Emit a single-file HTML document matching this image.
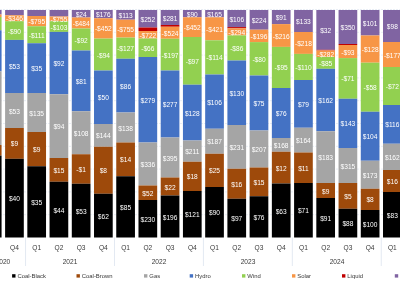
<!DOCTYPE html><html><head><meta charset="utf-8"><style>html,body{margin:0;padding:0;background:#fff;width:400px;height:283px;overflow:hidden}svg{display:block;will-change:transform}text{font-family:"Liberation Sans",sans-serif}</style></head><body>
<svg width="400" height="283" viewBox="0 0 400 283">
<line x1="0" y1="9.50" x2="400" y2="9.50" stroke="#E9EEF5" stroke-width="1" stroke-dasharray="2 1"/>
<line x1="0" y1="32.30" x2="400" y2="32.30" stroke="#E9EEF5" stroke-width="1" stroke-dasharray="2 1"/>
<line x1="0" y1="55.10" x2="400" y2="55.10" stroke="#E9EEF5" stroke-width="1" stroke-dasharray="2 1"/>
<line x1="0" y1="77.90" x2="400" y2="77.90" stroke="#E9EEF5" stroke-width="1" stroke-dasharray="2 1"/>
<line x1="0" y1="100.70" x2="400" y2="100.70" stroke="#E9EEF5" stroke-width="1" stroke-dasharray="2 1"/>
<line x1="0" y1="123.50" x2="400" y2="123.50" stroke="#E9EEF5" stroke-width="1" stroke-dasharray="2 1"/>
<line x1="0" y1="146.30" x2="400" y2="146.30" stroke="#E9EEF5" stroke-width="1" stroke-dasharray="2 1"/>
<line x1="0" y1="169.10" x2="400" y2="169.10" stroke="#E9EEF5" stroke-width="1" stroke-dasharray="2 1"/>
<line x1="0" y1="191.90" x2="400" y2="191.90" stroke="#E9EEF5" stroke-width="1" stroke-dasharray="2 1"/>
<line x1="0" y1="214.70" x2="400" y2="214.70" stroke="#E9EEF5" stroke-width="1" stroke-dasharray="2 1"/>
<rect x="-17.13" y="10.00" width="18.7" height="4.50" fill="#8064A2"/>
<rect x="-17.13" y="14.50" width="18.7" height="2.50" fill="#F79646"/>
<rect x="-17.13" y="17.00" width="18.7" height="13.30" fill="#92D050"/>
<rect x="-17.13" y="30.30" width="18.7" height="41.10" fill="#4472C4"/>
<rect x="-17.13" y="71.40" width="18.7" height="73.60" fill="#A5A5A5"/>
<rect x="-17.13" y="145.00" width="18.7" height="10.60" fill="#9E4A0B"/>
<rect x="-17.13" y="155.60" width="18.7" height="81.90" fill="#000000"/>
<text x="-7.78" y="53.85" font-size="6.6" fill="#fff" text-anchor="middle">$53</text>
<text x="-7.78" y="111.20" font-size="6.6" fill="#fff" text-anchor="middle">$53</text>
<text x="-7.78" y="199.55" font-size="6.6" fill="#fff" text-anchor="middle">$40</text>
<rect x="5.10" y="10.00" width="18.7" height="5.30" fill="#8064A2"/>
<rect x="5.10" y="15.30" width="18.7" height="5.90" fill="#F79646"/>
<rect x="5.10" y="21.20" width="18.7" height="18.70" fill="#92D050"/>
<rect x="5.10" y="39.90" width="18.7" height="53.10" fill="#4472C4"/>
<rect x="5.10" y="93.00" width="18.7" height="35.00" fill="#A5A5A5"/>
<rect x="5.10" y="128.00" width="18.7" height="30.80" fill="#9E4A0B"/>
<rect x="5.10" y="158.80" width="18.7" height="78.70" fill="#000000"/>
<text x="14.45" y="21.25" font-size="6.6" fill="#fff" text-anchor="middle">-$346</text>
<text x="14.45" y="33.55" font-size="6.6" fill="#fff" text-anchor="middle">-$90</text>
<text x="14.45" y="69.45" font-size="6.6" fill="#fff" text-anchor="middle">$53</text>
<text x="14.45" y="113.50" font-size="6.6" fill="#fff" text-anchor="middle">$53</text>
<text x="14.45" y="146.40" font-size="6.6" fill="#fff" text-anchor="middle">$9</text>
<text x="14.45" y="201.15" font-size="6.6" fill="#fff" text-anchor="middle">$40</text>
<rect x="27.33" y="10.00" width="18.7" height="6.00" fill="#8064A2"/>
<rect x="27.33" y="16.00" width="18.7" height="10.25" fill="#F79646"/>
<rect x="27.33" y="26.25" width="18.7" height="17.00" fill="#92D050"/>
<rect x="27.33" y="43.25" width="18.7" height="49.75" fill="#4472C4"/>
<rect x="27.33" y="93.00" width="18.7" height="39.00" fill="#A5A5A5"/>
<rect x="27.33" y="132.00" width="18.7" height="34.25" fill="#9E4A0B"/>
<rect x="27.33" y="166.25" width="18.7" height="71.25" fill="#000000"/>
<text x="36.68" y="24.12" font-size="6.6" fill="#fff" text-anchor="middle">-$795</text>
<text x="36.68" y="37.75" font-size="6.6" fill="#fff" text-anchor="middle">-$111</text>
<text x="36.68" y="71.12" font-size="6.6" fill="#fff" text-anchor="middle">$35</text>
<text x="36.68" y="115.50" font-size="6.6" fill="#fff" text-anchor="middle">$135</text>
<text x="36.68" y="152.12" font-size="6.6" fill="#fff" text-anchor="middle">$9</text>
<text x="36.68" y="204.88" font-size="6.6" fill="#fff" text-anchor="middle">$35</text>
<rect x="49.56" y="10.00" width="18.7" height="6.50" fill="#8064A2"/>
<rect x="49.56" y="16.50" width="18.7" height="4.75" fill="#F79646"/>
<rect x="49.56" y="21.25" width="18.7" height="10.65" fill="#92D050"/>
<rect x="49.56" y="31.90" width="18.7" height="62.35" fill="#4472C4"/>
<rect x="49.56" y="94.25" width="18.7" height="63.75" fill="#A5A5A5"/>
<rect x="49.56" y="158.00" width="18.7" height="23.75" fill="#9E4A0B"/>
<rect x="49.56" y="181.75" width="18.7" height="55.75" fill="#000000"/>
<text x="58.91" y="21.88" font-size="6.6" fill="#fff" text-anchor="middle">-$755</text>
<text x="58.91" y="29.57" font-size="6.6" fill="#fff" text-anchor="middle">-$103</text>
<text x="58.91" y="66.08" font-size="6.6" fill="#fff" text-anchor="middle">$92</text>
<text x="58.91" y="129.12" font-size="6.6" fill="#fff" text-anchor="middle">$94</text>
<text x="58.91" y="172.88" font-size="6.6" fill="#fff" text-anchor="middle">$15</text>
<text x="58.91" y="212.62" font-size="6.6" fill="#fff" text-anchor="middle">$44</text>
<rect x="71.79" y="10.00" width="18.7" height="7.50" fill="#8064A2"/>
<rect x="71.79" y="17.50" width="18.7" height="11.00" fill="#F79646"/>
<rect x="71.79" y="28.50" width="18.7" height="22.00" fill="#92D050"/>
<rect x="71.79" y="50.50" width="18.7" height="60.75" fill="#4472C4"/>
<rect x="71.79" y="111.25" width="18.7" height="43.00" fill="#A5A5A5"/>
<rect x="71.79" y="154.25" width="18.7" height="29.50" fill="#9E4A0B"/>
<rect x="71.79" y="183.75" width="18.7" height="53.75" fill="#000000"/>
<text x="81.14" y="16.75" font-size="6.6" fill="#fff" text-anchor="middle">$24</text>
<text x="81.14" y="26.00" font-size="6.6" fill="#fff" text-anchor="middle">-$484</text>
<text x="81.14" y="42.50" font-size="6.6" fill="#fff" text-anchor="middle">-$92</text>
<text x="81.14" y="83.88" font-size="6.6" fill="#fff" text-anchor="middle">$81</text>
<text x="81.14" y="135.75" font-size="6.6" fill="#fff" text-anchor="middle">$108</text>
<text x="81.14" y="172.00" font-size="6.6" fill="#fff" text-anchor="middle">-$1</text>
<text x="81.14" y="213.62" font-size="6.6" fill="#fff" text-anchor="middle">$53</text>
<rect x="94.02" y="10.00" width="18.7" height="8.25" fill="#8064A2"/>
<rect x="94.02" y="18.25" width="18.7" height="20.35" fill="#F79646"/>
<rect x="94.02" y="38.60" width="18.7" height="31.90" fill="#92D050"/>
<rect x="94.02" y="70.50" width="18.7" height="53.50" fill="#4472C4"/>
<rect x="94.02" y="124.00" width="18.7" height="22.75" fill="#A5A5A5"/>
<rect x="94.02" y="146.75" width="18.7" height="47.00" fill="#9E4A0B"/>
<rect x="94.02" y="193.75" width="18.7" height="43.75" fill="#000000"/>
<text x="103.37" y="17.12" font-size="6.6" fill="#fff" text-anchor="middle">$176</text>
<text x="103.37" y="31.43" font-size="6.6" fill="#fff" text-anchor="middle">-$452</text>
<text x="103.37" y="57.55" font-size="6.6" fill="#fff" text-anchor="middle">-$94</text>
<text x="103.37" y="100.25" font-size="6.6" fill="#fff" text-anchor="middle">$50</text>
<text x="103.37" y="138.38" font-size="6.6" fill="#fff" text-anchor="middle">$144</text>
<text x="103.37" y="173.25" font-size="6.6" fill="#fff" text-anchor="middle">$8</text>
<text x="103.37" y="218.62" font-size="6.6" fill="#fff" text-anchor="middle">$62</text>
<rect x="116.25" y="10.00" width="18.7" height="9.70" fill="#8064A2"/>
<rect x="116.25" y="19.70" width="18.7" height="17.90" fill="#F79646"/>
<rect x="116.25" y="37.60" width="18.7" height="21.15" fill="#92D050"/>
<rect x="116.25" y="58.75" width="18.7" height="53.75" fill="#4472C4"/>
<rect x="116.25" y="112.50" width="18.7" height="30.00" fill="#A5A5A5"/>
<rect x="116.25" y="142.50" width="18.7" height="33.75" fill="#9E4A0B"/>
<rect x="116.25" y="176.25" width="18.7" height="61.25" fill="#000000"/>
<text x="125.60" y="17.85" font-size="6.6" fill="#fff" text-anchor="middle">$113</text>
<text x="125.60" y="31.65" font-size="6.6" fill="#fff" text-anchor="middle">-$755</text>
<text x="125.60" y="51.17" font-size="6.6" fill="#fff" text-anchor="middle">-$127</text>
<text x="125.60" y="88.62" font-size="6.6" fill="#fff" text-anchor="middle">$86</text>
<text x="125.60" y="130.50" font-size="6.6" fill="#fff" text-anchor="middle">$138</text>
<text x="125.60" y="162.38" font-size="6.6" fill="#fff" text-anchor="middle">$14</text>
<text x="125.60" y="209.88" font-size="6.6" fill="#fff" text-anchor="middle">$85</text>
<rect x="138.48" y="10.00" width="18.7" height="17.50" fill="#8064A2"/>
<rect x="138.48" y="27.50" width="18.7" height="3.50" fill="#C00000"/>
<rect x="138.48" y="31.00" width="18.7" height="7.50" fill="#F79646"/>
<rect x="138.48" y="38.50" width="18.7" height="18.50" fill="#92D050"/>
<rect x="138.48" y="57.00" width="18.7" height="85.50" fill="#4472C4"/>
<rect x="138.48" y="142.50" width="18.7" height="43.00" fill="#A5A5A5"/>
<rect x="138.48" y="185.50" width="18.7" height="14.50" fill="#9E4A0B"/>
<rect x="138.48" y="200.00" width="18.7" height="37.50" fill="#000000"/>
<text x="147.83" y="21.75" font-size="6.6" fill="#fff" text-anchor="middle">$252</text>
<text x="147.83" y="37.75" font-size="6.6" fill="#fff" text-anchor="middle">-$722</text>
<text x="147.83" y="50.75" font-size="6.6" fill="#fff" text-anchor="middle">-$66</text>
<text x="147.83" y="102.75" font-size="6.6" fill="#fff" text-anchor="middle">$279</text>
<text x="147.83" y="167.00" font-size="6.6" fill="#fff" text-anchor="middle">$336</text>
<text x="147.83" y="195.75" font-size="6.6" fill="#fff" text-anchor="middle">$52</text>
<text x="147.83" y="221.75" font-size="6.6" fill="#fff" text-anchor="middle">$230</text>
<rect x="160.71" y="10.00" width="18.7" height="15.00" fill="#8064A2"/>
<rect x="160.71" y="25.00" width="18.7" height="1.75" fill="#C00000"/>
<rect x="160.71" y="26.75" width="18.7" height="12.00" fill="#F79646"/>
<rect x="160.71" y="38.75" width="18.7" height="31.75" fill="#92D050"/>
<rect x="160.71" y="70.50" width="18.7" height="67.00" fill="#4472C4"/>
<rect x="160.71" y="137.50" width="18.7" height="40.00" fill="#A5A5A5"/>
<rect x="160.71" y="177.50" width="18.7" height="18.00" fill="#9E4A0B"/>
<rect x="160.71" y="195.50" width="18.7" height="42.00" fill="#000000"/>
<text x="170.06" y="20.50" font-size="6.6" fill="#fff" text-anchor="middle">$281</text>
<text x="170.06" y="35.75" font-size="6.6" fill="#fff" text-anchor="middle">-$524</text>
<text x="170.06" y="57.62" font-size="6.6" fill="#fff" text-anchor="middle">-$197</text>
<text x="170.06" y="107.00" font-size="6.6" fill="#fff" text-anchor="middle">$277</text>
<text x="170.06" y="160.50" font-size="6.6" fill="#fff" text-anchor="middle">$395</text>
<text x="170.06" y="189.50" font-size="6.6" fill="#fff" text-anchor="middle">$22</text>
<text x="170.06" y="219.50" font-size="6.6" fill="#fff" text-anchor="middle">$196</text>
<rect x="182.94" y="10.00" width="18.7" height="7.25" fill="#8064A2"/>
<rect x="182.94" y="17.25" width="18.7" height="19.75" fill="#F79646"/>
<rect x="182.94" y="37.00" width="18.7" height="47.70" fill="#92D050"/>
<rect x="182.94" y="84.70" width="18.7" height="55.80" fill="#4472C4"/>
<rect x="182.94" y="140.50" width="18.7" height="21.25" fill="#A5A5A5"/>
<rect x="182.94" y="161.75" width="18.7" height="29.25" fill="#9E4A0B"/>
<rect x="182.94" y="191.00" width="18.7" height="46.50" fill="#000000"/>
<text x="192.29" y="16.62" font-size="6.6" fill="#fff" text-anchor="middle">$90</text>
<text x="192.29" y="30.12" font-size="6.6" fill="#fff" text-anchor="middle">-$452</text>
<text x="192.29" y="63.85" font-size="6.6" fill="#fff" text-anchor="middle">-$97</text>
<text x="192.29" y="115.60" font-size="6.6" fill="#fff" text-anchor="middle">$128</text>
<text x="192.29" y="154.12" font-size="6.6" fill="#fff" text-anchor="middle">$211</text>
<text x="192.29" y="179.38" font-size="6.6" fill="#fff" text-anchor="middle">$18</text>
<text x="192.29" y="217.25" font-size="6.6" fill="#fff" text-anchor="middle">$121</text>
<rect x="205.17" y="10.00" width="18.7" height="7.30" fill="#8064A2"/>
<rect x="205.17" y="17.30" width="18.7" height="23.00" fill="#F79646"/>
<rect x="205.17" y="40.30" width="18.7" height="34.20" fill="#92D050"/>
<rect x="205.17" y="74.50" width="18.7" height="54.25" fill="#4472C4"/>
<rect x="205.17" y="128.75" width="18.7" height="25.00" fill="#A5A5A5"/>
<rect x="205.17" y="153.75" width="18.7" height="33.25" fill="#9E4A0B"/>
<rect x="205.17" y="187.00" width="18.7" height="50.50" fill="#000000"/>
<text x="214.52" y="16.65" font-size="6.6" fill="#fff" text-anchor="middle">$165</text>
<text x="214.52" y="31.80" font-size="6.6" fill="#fff" text-anchor="middle">-$421</text>
<text x="214.52" y="60.40" font-size="6.6" fill="#fff" text-anchor="middle">-$114</text>
<text x="214.52" y="104.62" font-size="6.6" fill="#fff" text-anchor="middle">$106</text>
<text x="214.52" y="144.25" font-size="6.6" fill="#fff" text-anchor="middle">$187</text>
<text x="214.52" y="173.38" font-size="6.6" fill="#fff" text-anchor="middle">$25</text>
<text x="214.52" y="215.25" font-size="6.6" fill="#fff" text-anchor="middle">$90</text>
<rect x="227.40" y="10.00" width="18.7" height="17.10" fill="#8064A2"/>
<rect x="227.40" y="27.10" width="18.7" height="1.20" fill="#C00000"/>
<rect x="227.40" y="28.30" width="18.7" height="7.10" fill="#F79646"/>
<rect x="227.40" y="35.40" width="18.7" height="25.10" fill="#92D050"/>
<rect x="227.40" y="60.50" width="18.7" height="64.50" fill="#4472C4"/>
<rect x="227.40" y="125.00" width="18.7" height="43.75" fill="#A5A5A5"/>
<rect x="227.40" y="168.75" width="18.7" height="30.00" fill="#9E4A0B"/>
<rect x="227.40" y="198.75" width="18.7" height="38.75" fill="#000000"/>
<text x="236.75" y="21.55" font-size="6.6" fill="#fff" text-anchor="middle">$106</text>
<text x="236.75" y="34.85" font-size="6.6" fill="#fff" text-anchor="middle">-$294</text>
<text x="236.75" y="50.95" font-size="6.6" fill="#fff" text-anchor="middle">-$86</text>
<text x="236.75" y="95.75" font-size="6.6" fill="#fff" text-anchor="middle">$130</text>
<text x="236.75" y="149.88" font-size="6.6" fill="#fff" text-anchor="middle">$231</text>
<text x="236.75" y="186.75" font-size="6.6" fill="#fff" text-anchor="middle">$16</text>
<text x="236.75" y="221.12" font-size="6.6" fill="#fff" text-anchor="middle">$97</text>
<rect x="249.63" y="10.00" width="18.7" height="19.70" fill="#8064A2"/>
<rect x="249.63" y="29.70" width="18.7" height="12.40" fill="#F79646"/>
<rect x="249.63" y="42.10" width="18.7" height="33.40" fill="#92D050"/>
<rect x="249.63" y="75.50" width="18.7" height="55.00" fill="#4472C4"/>
<rect x="249.63" y="130.50" width="18.7" height="37.00" fill="#A5A5A5"/>
<rect x="249.63" y="167.50" width="18.7" height="28.75" fill="#9E4A0B"/>
<rect x="249.63" y="196.25" width="18.7" height="41.25" fill="#000000"/>
<text x="258.98" y="22.85" font-size="6.6" fill="#fff" text-anchor="middle">$224</text>
<text x="258.98" y="38.90" font-size="6.6" fill="#fff" text-anchor="middle">-$196</text>
<text x="258.98" y="61.80" font-size="6.6" fill="#fff" text-anchor="middle">-$80</text>
<text x="258.98" y="106.00" font-size="6.6" fill="#fff" text-anchor="middle">$75</text>
<text x="258.98" y="152.00" font-size="6.6" fill="#fff" text-anchor="middle">$207</text>
<text x="258.98" y="184.88" font-size="6.6" fill="#fff" text-anchor="middle">$15</text>
<text x="258.98" y="219.88" font-size="6.6" fill="#fff" text-anchor="middle">$76</text>
<rect x="271.86" y="10.00" width="18.7" height="14.10" fill="#8064A2"/>
<rect x="271.86" y="24.10" width="18.7" height="22.80" fill="#F79646"/>
<rect x="271.86" y="46.90" width="18.7" height="41.10" fill="#92D050"/>
<rect x="271.86" y="88.00" width="18.7" height="50.00" fill="#4472C4"/>
<rect x="271.86" y="138.00" width="18.7" height="13.75" fill="#A5A5A5"/>
<rect x="271.86" y="151.75" width="18.7" height="31.75" fill="#9E4A0B"/>
<rect x="271.86" y="183.50" width="18.7" height="54.00" fill="#000000"/>
<text x="281.21" y="20.05" font-size="6.6" fill="#fff" text-anchor="middle">$91</text>
<text x="281.21" y="38.50" font-size="6.6" fill="#fff" text-anchor="middle">-$216</text>
<text x="281.21" y="70.45" font-size="6.6" fill="#fff" text-anchor="middle">-$95</text>
<text x="281.21" y="116.00" font-size="6.6" fill="#fff" text-anchor="middle">$76</text>
<text x="281.21" y="147.88" font-size="6.6" fill="#fff" text-anchor="middle">$168</text>
<text x="281.21" y="170.62" font-size="6.6" fill="#fff" text-anchor="middle">$12</text>
<text x="281.21" y="213.50" font-size="6.6" fill="#fff" text-anchor="middle">$63</text>
<rect x="294.09" y="10.00" width="18.7" height="22.00" fill="#8064A2"/>
<rect x="294.09" y="32.00" width="18.7" height="21.90" fill="#F79646"/>
<rect x="294.09" y="53.90" width="18.7" height="26.10" fill="#92D050"/>
<rect x="294.09" y="80.00" width="18.7" height="47.75" fill="#4472C4"/>
<rect x="294.09" y="127.75" width="18.7" height="24.75" fill="#A5A5A5"/>
<rect x="294.09" y="152.50" width="18.7" height="30.50" fill="#9E4A0B"/>
<rect x="294.09" y="183.00" width="18.7" height="54.50" fill="#000000"/>
<text x="303.44" y="24.00" font-size="6.6" fill="#fff" text-anchor="middle">$133</text>
<text x="303.44" y="45.95" font-size="6.6" fill="#fff" text-anchor="middle">-$218</text>
<text x="303.44" y="69.95" font-size="6.6" fill="#fff" text-anchor="middle">-$110</text>
<text x="303.44" y="106.88" font-size="6.6" fill="#fff" text-anchor="middle">$79</text>
<text x="303.44" y="143.12" font-size="6.6" fill="#fff" text-anchor="middle">$164</text>
<text x="303.44" y="170.75" font-size="6.6" fill="#fff" text-anchor="middle">$11</text>
<text x="303.44" y="213.25" font-size="6.6" fill="#fff" text-anchor="middle">$71</text>
<rect x="316.32" y="10.00" width="18.7" height="39.80" fill="#8064A2"/>
<rect x="316.32" y="49.80" width="18.7" height="0.70" fill="#C00000"/>
<rect x="316.32" y="50.50" width="18.7" height="6.50" fill="#F79646"/>
<rect x="316.32" y="57.00" width="18.7" height="11.80" fill="#92D050"/>
<rect x="316.32" y="68.80" width="18.7" height="62.45" fill="#4472C4"/>
<rect x="316.32" y="131.25" width="18.7" height="51.75" fill="#A5A5A5"/>
<rect x="316.32" y="183.00" width="18.7" height="15.00" fill="#9E4A0B"/>
<rect x="316.32" y="198.00" width="18.7" height="39.50" fill="#000000"/>
<text x="325.67" y="32.90" font-size="6.6" fill="#fff" text-anchor="middle">$32</text>
<text x="325.67" y="56.75" font-size="6.6" fill="#fff" text-anchor="middle">-$282</text>
<text x="325.67" y="65.90" font-size="6.6" fill="#fff" text-anchor="middle">-$85</text>
<text x="325.67" y="103.03" font-size="6.6" fill="#fff" text-anchor="middle">$162</text>
<text x="325.67" y="160.12" font-size="6.6" fill="#fff" text-anchor="middle">$183</text>
<text x="325.67" y="193.50" font-size="6.6" fill="#fff" text-anchor="middle">$9</text>
<text x="325.67" y="220.75" font-size="6.6" fill="#fff" text-anchor="middle">$91</text>
<rect x="338.55" y="10.00" width="18.7" height="34.00" fill="#8064A2"/>
<rect x="338.55" y="44.00" width="18.7" height="1.00" fill="#C00000"/>
<rect x="338.55" y="45.00" width="18.7" height="13.10" fill="#F79646"/>
<rect x="338.55" y="58.10" width="18.7" height="40.65" fill="#92D050"/>
<rect x="338.55" y="98.75" width="18.7" height="49.25" fill="#4472C4"/>
<rect x="338.55" y="148.00" width="18.7" height="35.00" fill="#A5A5A5"/>
<rect x="338.55" y="183.00" width="18.7" height="25.75" fill="#9E4A0B"/>
<rect x="338.55" y="208.75" width="18.7" height="28.75" fill="#000000"/>
<text x="347.90" y="30.00" font-size="6.6" fill="#fff" text-anchor="middle">$350</text>
<text x="347.90" y="54.55" font-size="6.6" fill="#fff" text-anchor="middle">-$93</text>
<text x="347.90" y="81.42" font-size="6.6" fill="#fff" text-anchor="middle">-$71</text>
<text x="347.90" y="126.38" font-size="6.6" fill="#fff" text-anchor="middle">$143</text>
<text x="347.90" y="168.50" font-size="6.6" fill="#fff" text-anchor="middle">$315</text>
<text x="347.90" y="198.88" font-size="6.6" fill="#fff" text-anchor="middle">$5</text>
<text x="347.90" y="226.12" font-size="6.6" fill="#fff" text-anchor="middle">$88</text>
<rect x="360.78" y="10.00" width="18.7" height="25.50" fill="#8064A2"/>
<rect x="360.78" y="35.50" width="18.7" height="27.20" fill="#F79646"/>
<rect x="360.78" y="62.70" width="18.7" height="49.05" fill="#92D050"/>
<rect x="360.78" y="111.75" width="18.7" height="49.00" fill="#4472C4"/>
<rect x="360.78" y="160.75" width="18.7" height="28.00" fill="#A5A5A5"/>
<rect x="360.78" y="188.75" width="18.7" height="21.25" fill="#9E4A0B"/>
<rect x="360.78" y="210.00" width="18.7" height="27.50" fill="#000000"/>
<text x="370.13" y="25.75" font-size="6.6" fill="#fff" text-anchor="middle">$101</text>
<text x="370.13" y="52.10" font-size="6.6" fill="#fff" text-anchor="middle">-$128</text>
<text x="370.13" y="90.22" font-size="6.6" fill="#fff" text-anchor="middle">-$58</text>
<text x="370.13" y="139.25" font-size="6.6" fill="#fff" text-anchor="middle">$104</text>
<text x="370.13" y="177.75" font-size="6.6" fill="#fff" text-anchor="middle">$173</text>
<text x="370.13" y="202.38" font-size="6.6" fill="#fff" text-anchor="middle">$8</text>
<text x="370.13" y="226.75" font-size="6.6" fill="#fff" text-anchor="middle">$100</text>
<rect x="383.01" y="10.00" width="18.7" height="32.00" fill="#8064A2"/>
<rect x="383.01" y="42.00" width="18.7" height="25.00" fill="#F79646"/>
<rect x="383.01" y="67.00" width="18.7" height="38.00" fill="#92D050"/>
<rect x="383.01" y="105.00" width="18.7" height="38.75" fill="#4472C4"/>
<rect x="383.01" y="143.75" width="18.7" height="26.25" fill="#A5A5A5"/>
<rect x="383.01" y="170.00" width="18.7" height="22.00" fill="#9E4A0B"/>
<rect x="383.01" y="192.00" width="18.7" height="45.50" fill="#000000"/>
<text x="392.36" y="29.00" font-size="6.6" fill="#fff" text-anchor="middle">$98</text>
<text x="392.36" y="57.50" font-size="6.6" fill="#fff" text-anchor="middle">-$177</text>
<text x="392.36" y="89.00" font-size="6.6" fill="#fff" text-anchor="middle">-$72</text>
<text x="392.36" y="127.38" font-size="6.6" fill="#fff" text-anchor="middle">$116</text>
<text x="392.36" y="159.88" font-size="6.6" fill="#fff" text-anchor="middle">$162</text>
<text x="392.36" y="184.00" font-size="6.6" fill="#fff" text-anchor="middle">$16</text>
<text x="392.36" y="217.75" font-size="6.6" fill="#fff" text-anchor="middle">$83</text>
<line x1="25.56" y1="237.5" x2="25.56" y2="266" stroke="#E3E9F2" stroke-width="1"/>
<line x1="114.48" y1="237.5" x2="114.48" y2="266" stroke="#E3E9F2" stroke-width="1"/>
<line x1="203.41" y1="237.5" x2="203.41" y2="266" stroke="#E3E9F2" stroke-width="1"/>
<line x1="292.32" y1="237.5" x2="292.32" y2="266" stroke="#E3E9F2" stroke-width="1"/>
<line x1="381.25" y1="237.5" x2="381.25" y2="266" stroke="#E3E9F2" stroke-width="1"/>
<text x="14.45" y="249.9" font-size="6.6" fill="#383838" text-anchor="middle">Q4</text>
<text x="36.68" y="249.9" font-size="6.6" fill="#383838" text-anchor="middle">Q1</text>
<text x="58.91" y="249.9" font-size="6.6" fill="#383838" text-anchor="middle">Q2</text>
<text x="81.14" y="249.9" font-size="6.6" fill="#383838" text-anchor="middle">Q3</text>
<text x="103.37" y="249.9" font-size="6.6" fill="#383838" text-anchor="middle">Q4</text>
<text x="125.60" y="249.9" font-size="6.6" fill="#383838" text-anchor="middle">Q1</text>
<text x="147.83" y="249.9" font-size="6.6" fill="#383838" text-anchor="middle">Q2</text>
<text x="170.06" y="249.9" font-size="6.6" fill="#383838" text-anchor="middle">Q3</text>
<text x="192.29" y="249.9" font-size="6.6" fill="#383838" text-anchor="middle">Q4</text>
<text x="214.52" y="249.9" font-size="6.6" fill="#383838" text-anchor="middle">Q1</text>
<text x="236.75" y="249.9" font-size="6.6" fill="#383838" text-anchor="middle">Q2</text>
<text x="258.98" y="249.9" font-size="6.6" fill="#383838" text-anchor="middle">Q3</text>
<text x="281.21" y="249.9" font-size="6.6" fill="#383838" text-anchor="middle">Q4</text>
<text x="303.44" y="249.9" font-size="6.6" fill="#383838" text-anchor="middle">Q1</text>
<text x="325.67" y="249.9" font-size="6.6" fill="#383838" text-anchor="middle">Q2</text>
<text x="347.90" y="249.9" font-size="6.6" fill="#383838" text-anchor="middle">Q3</text>
<text x="370.13" y="249.9" font-size="6.6" fill="#383838" text-anchor="middle">Q4</text>
<text x="392.36" y="249.9" font-size="6.6" fill="#383838" text-anchor="middle">Q1</text>
<text x="2.90" y="263.6" font-size="6.6" fill="#383838" text-anchor="middle">2020</text>
<text x="70.00" y="263.6" font-size="6.6" fill="#383838" text-anchor="middle">2021</text>
<text x="159.00" y="263.6" font-size="6.6" fill="#383838" text-anchor="middle">2022</text>
<text x="248.00" y="263.6" font-size="6.6" fill="#383838" text-anchor="middle">2023</text>
<text x="337.00" y="263.6" font-size="6.6" fill="#383838" text-anchor="middle">2024</text>
<rect x="12.10" y="274.2" width="3.4" height="3.4" fill="#000000"/>
<text x="17.40" y="277.9" font-size="5.9" fill="#383838">Coal-Black</text>
<rect x="76.50" y="274.2" width="3.4" height="3.4" fill="#9E4A0B"/>
<text x="81.80" y="277.9" font-size="5.9" fill="#383838">Coal-Brown</text>
<rect x="144.00" y="274.2" width="3.4" height="3.4" fill="#A5A5A5"/>
<text x="149.30" y="277.9" font-size="5.9" fill="#383838">Gas</text>
<rect x="189.70" y="274.2" width="3.4" height="3.4" fill="#4472C4"/>
<text x="195.00" y="277.9" font-size="5.9" fill="#383838">Hydro</text>
<rect x="242.00" y="274.2" width="3.4" height="3.4" fill="#92D050"/>
<text x="247.30" y="277.9" font-size="5.9" fill="#383838">Wind</text>
<rect x="292.00" y="274.2" width="3.4" height="3.4" fill="#F79646"/>
<text x="297.30" y="277.9" font-size="5.9" fill="#383838">Solar</text>
<rect x="342.00" y="274.2" width="3.4" height="3.4" fill="#C00000"/>
<text x="347.30" y="277.9" font-size="5.9" fill="#383838">Liquid</text>
<rect x="394.80" y="274.2" width="3.4" height="3.4" fill="#8064A2"/>
</svg></body></html>
